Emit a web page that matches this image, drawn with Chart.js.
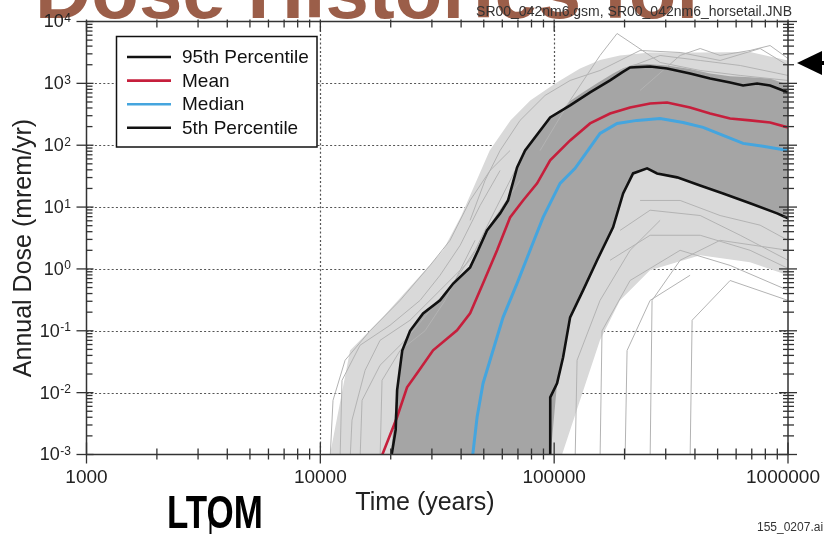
<!DOCTYPE html>
<html><head><meta charset="utf-8">
<script src="https://cdn.jsdelivr.net/npm/chart.js@4.4.1/dist/chart.umd.min.js"></script>
<style>html,body{margin:0;padding:0;background:#fff;overflow:hidden}#wrap{position:relative;width:824px;height:534px}</style>
</head><body><div id="wrap"><canvas id="c" width="824" height="534"></canvas></div>
<script>
// ---- texts ----
const TITLE = 'Dose Histories for';
const SUBTITLE = 'SR00_042nm6.gsm, SR00_042nm6_horsetail.JNB';
const X_TITLE = 'Time (years)';
const Y_TITLE = 'Annual Dose (mrem/yr)';
const LOGO = 'LTOM';
const FILE_ID = '155_0207.ai';
const X_TICK_VALUES = [1000, 10000, 100000, 1000000];
const X_TICK_LABELS = ['1000', '10000', '100000', '1000000'];
const Y_TICK_EXPONENTS = [-3, -2, -1, 0, 1, 2, 3, 4];
const X_GRID = [10000, 100000];
const Y_GRID = [0.01, 0.1, 1, 10, 100, 1000];

// ---- statistics (time in years, dose in mrem/yr) ----
const P95_T = [20000, 21000, 21300, 22400, 24200, 27500, 32500, 37000, 43700, 47300, 51600, 58700, 63500, 69400, 75100, 96100, 117000, 142400, 173400, 195200, 211200, 257200, 304000, 381300, 464500, 565500, 642600, 737700, 838300, 952800, 1000000];
const P95_D = [0.0008, 0.0025, 0.011, 0.048, 0.10, 0.19, 0.31, 0.58, 1.06, 2.0, 4.2, 7.9, 12.8, 43.8, 82, 281, 440, 713, 1114, 1500, 1807, 1875, 1741, 1445, 1200, 1035, 925, 995, 925, 768, 713];
const MEAN_T = [18000, 21280, 23490, 25920, 30350, 38420, 43700, 49660, 57000, 64770, 73600, 84540, 96100, 117000, 142400, 173400, 211200, 257200, 304000, 381300, 464500, 565500, 688400, 838300, 1000000];
const MEAN_D = [0.0008, 0.0040, 0.0122, 0.0206, 0.0484, 0.102, 0.192, 0.585, 2.0, 6.8, 12.8, 24.2, 56.8, 119.6, 225, 326, 408, 473, 491, 408, 326, 271, 252, 233, 194];
const MED_T = [44560, 46810, 49660, 54790, 60450, 69400, 78890, 89660, 106000, 122900, 142400, 157100, 185800, 226300, 283800, 356000, 433500, 527800, 642600, 782500, 1000000];
const MED_D = [0.0008, 0.0040, 0.0142, 0.0484, 0.165, 0.585, 2.0, 6.8, 24.2, 42.2, 92, 155, 225, 252, 271, 233, 194, 144, 107, 96, 82];
const P5_T = [96100, 96200, 102900, 109200, 117000, 132900, 152600, 178600, 197200, 217500, 249700, 275600, 335600, 420700, 527800, 688400, 898300, 1000000];
const P5_D = [0.0008, 0.0084, 0.0142, 0.0373, 0.165, 0.451, 1.38, 4.7, 16.6, 35, 42.2, 35, 30.2, 22.4, 16.6, 11.5, 7.9, 6.6];

// ---- horsetail band (dense core and sparse fringe of the realizations) ----
const CORE_T = [20000, 21300, 22400, 24200, 27500, 32500, 37000, 43700, 47300, 51600, 58700, 63500, 69400, 75100, 96100, 102900, 109200, 117000, 132900, 152600, 178600, 197200, 217500, 249700, 304000, 381300, 464500, 565500, 688400, 838300, 1000000];
const CORE_HI = [0.001, 0.011, 0.048, 0.10, 0.19, 0.31, 0.58, 1.06, 2.0, 4.2, 7.9, 12.8, 43.8, 82, 281, 340, 390, 520, 720, 1000, 1450, 1750, 2000, 2050, 1950, 1700, 1450, 1300, 1250, 1200, 950];
const CORE_LO = [0.0008, 0.0008, 0.0008, 0.0008, 0.0008, 0.0008, 0.0008, 0.0008, 0.0008, 0.0008, 0.0008, 0.0008, 0.0008, 0.0008, 0.0008, 0.0142, 0.0373, 0.165, 0.451, 1.38, 4.7, 16.6, 35, 42.2, 32, 25.5, 19.7, 15.1, 11.5, 8.7, 6.6];
const FRINGE_T = [11000, 13400, 18500, 25000, 33500, 40000, 53000, 65000, 79000, 96000, 106000, 129000, 157000, 191000, 257000, 421000, 688000, 1000000];
const FRINGE_HI = [0.001, 0.048, 0.165, 0.585, 2.0, 7.2, 82, 252, 530, 870, 1114, 1740, 2380, 2824, 3157, 3157, 3200, 2344];
const FRINGE_LO = [0.0008, 0.0008, 0.0008, 0.0008, 0.0008, 0.0008, 0.0008, 0.0008, 0.0008, 0.0008, 0.0008, 0.0075, 0.070, 0.31, 0.95, 1.66, 1.28, 0.79];

// ---- individual outlying realizations ----
const G1_T = [11000, 11330, 12760, 16320, 21930, 29460, 35870, 43700, 53190, 64770];
const G1_D = [0.0008, 0.0075, 0.0334, 0.10, 0.31, 1.14, 2.9, 12.8, 39, 82];
const G2_T = [12140, 12380, 14780, 19870, 26700, 32510, 39600, 48220, 58700];
const G2_D = [0.0008, 0.0158, 0.0583, 0.123, 0.31, 0.79, 2.4, 10.6, 39];
const G3_T = [13400, 13660, 15540, 18000, 24190, 32510, 43700, 53190, 71470];
const G3_D = [0.0008, 0.0036, 0.023, 0.070, 0.148, 0.451, 1.38, 5.1, 27];
const G4_T = [87060, 117000, 157100, 185800, 221800, 283800, 421200, 624700, 1000000];
const G4_D = [82, 530, 2824, 6400, 4090, 2175, 1615, 1343, 1114];
const G5_T = [233000, 345600, 421200, 512400, 688400, 838300, 1000000];
const G5_D = [768, 2824, 3660, 2824, 3400, 4090, 2523];
const G6_T = [157100, 233000, 345600, 512400, 759800, 1000000];
const G6_D = [1615, 3400, 3157, 2344, 3660, 1945];
const G7_T = [191400, 257200, 421200, 624700, 1000000];
const G7_D = [4.2, 8.9, 7.3, 3.5, 1.38];
const G8_T = [157100, 160200, 211200, 345600, 565500, 1000000];
const G8_D = [0.0008, 0.10, 0.65, 2.0, 1.14, 0.451];
const G9_T = [257200, 262200, 345600, 512400, 1000000];
const G9_D = [0.0008, 0.31, 1.38, 2.9, 2.0];
const G10_T = [381300, 389000, 565500, 1000000];
const G10_D = [0.0008, 0.148, 0.65, 0.31];
const G11_T = [122900, 125300, 157100, 211200, 283800];
const G11_D = [0.0008, 0.0334, 0.31, 2.0, 6.1];
const G12_T = [18000, 18360, 21930, 28040, 34150, 39600, 45890];
const G12_D = [0.0008, 0.0158, 0.048, 0.10, 0.31, 0.95, 2.9];
const G13_T = [14780, 15080, 18000, 23030, 29460, 37690, 45890, 55870, 68060];
const G13_D = [0.0008, 0.0075, 0.0277, 0.070, 0.214, 0.65, 2.0, 8.9, 39];
const G14_T = [43700, 50620, 58700, 71470, 91440, 117000, 157100];
const G14_D = [6.1, 27, 82, 252, 638, 1114, 1615];
const G15_T = [191400, 283800, 421200, 624700, 1000000];
const G15_D = [1615, 2824, 2344, 1945, 1343];
const G16_T = [233000, 345600, 512400, 759800, 1000000];
const G16_D = [12.8, 12.8, 7.3, 5.1, 2.9];
const G17_T = [173400, 257200, 421200, 688400, 1000000];
const G17_D = [1.38, 3.5, 3.5, 2.0, 1.02];
const G18_T = [201000, 205000, 257200, 381300];
const G18_D = [0.0008, 0.048, 0.31, 0.79];

const FONT = "'Liberation Sans', Arial, Helvetica, sans-serif";
const xy = (T, D) => T.map((t, i) => ({x: t, y: D[i]}));
const GRAY_LINES = [[G1_T, G1_D], [G2_T, G2_D], [G3_T, G3_D], [G4_T, G4_D], [G5_T, G5_D], [G6_T, G6_D],
  [G7_T, G7_D], [G8_T, G8_D], [G9_T, G9_D], [G10_T, G10_D], [G11_T, G11_D], [G12_T, G12_D],
  [G13_T, G13_D], [G14_T, G14_D], [G15_T, G15_D], [G16_T, G16_D], [G17_T, G17_D], [G18_T, G18_D]];

const base = {pointRadius: 0, pointHoverRadius: 0, tension: 0, clip: 0, fill: false};
const datasets = [
  {...base, label: '95th Percentile', data: xy(P95_T, P95_D), borderColor: '#111111', borderWidth: 2.6, order: 0},
  {...base, label: 'Mean', data: xy(MEAN_T, MEAN_D), borderColor: '#c61f3c', borderWidth: 2.6, order: 1},
  {...base, label: 'Median', data: xy(MED_T, MED_D), borderColor: '#45a5de', borderWidth: 3, order: 2},
  {...base, label: '5th Percentile', data: xy(P5_T, P5_D), borderColor: '#111111', borderWidth: 2.6, order: 3},
];
GRAY_LINES.forEach(([T, D], i) => datasets.push({...base, label: 'r' + i, data: xy(T, D), borderColor: '#b3b3b3', borderWidth: 1, order: 10}));
datasets.push({...base, label: 'coreHi', data: xy(CORE_T, CORE_HI), borderColor: 'transparent', borderWidth: 0.01, backgroundColor: '#a5a5a5', fill: '+1', order: 20});
datasets.push({...base, label: 'coreLo', data: xy(CORE_T, CORE_LO), borderColor: 'transparent', borderWidth: 0.01, order: 21});
datasets.push({...base, label: 'fringeHi', data: xy(FRINGE_T, FRINGE_HI), borderColor: 'transparent', borderWidth: 0.01, backgroundColor: '#d9d9d9', fill: '+1', order: 30});
datasets.push({...base, label: 'fringeLo', data: xy(FRINGE_T, FRINGE_LO), borderColor: 'transparent', borderWidth: 0.01, order: 31});

function seg(ctx, x1, y1, x2, y2) { ctx.beginPath(); ctx.moveTo(x1, y1); ctx.lineTo(x2, y2); ctx.stroke(); }

const deco = {
  id: 'deco',
  beforeDraw(chart) {
    const ctx = chart.ctx;
    ctx.save();
    ctx.fillStyle = '#9b5e49'; ctx.font = `bold 78px ${FONT}`; ctx.textAlign = 'left'; ctx.textBaseline = 'alphabetic';
    ctx.fillText(TITLE, 35, 18);
    ctx.restore();
  },
  beforeDatasetsDraw(chart) {
    const {ctx, chartArea: a, scales: {x, y}} = chart;
    ctx.save();
    ctx.strokeStyle = '#555'; ctx.lineWidth = 1.2; ctx.setLineDash([2, 2.2]);
    Y_GRID.forEach(v => { const p = Math.round(y.getPixelForValue(v)) + 0.5; seg(ctx, a.left, p, a.right, p); });
    X_GRID.forEach(v => { const p = Math.round(x.getPixelForValue(v)) + 0.5; seg(ctx, p, a.top, p, a.bottom); });
    ctx.restore();
  },
  afterDatasetsDraw(chart) {
    const {ctx, chartArea: a, scales: {x, y}} = chart;
    ctx.save();
    ctx.setLineDash([]);
    ctx.strokeStyle = '#333'; ctx.lineWidth = 1.5;
    ctx.strokeRect(a.left, a.top, a.right - a.left, a.bottom - a.top);
    ctx.lineWidth = 1.3;
    for (let e = 3; e <= 6; e++) for (let k = 1; k <= 9; k++) {
      const v = k * Math.pow(10, e); if (v > 1e6 * 1.0001) break;
      const p = x.getPixelForValue(v); const major = k === 1;
      seg(ctx, p, a.bottom + (major ? 9 : 5), p, a.bottom - (major ? 12 : 6));
      seg(ctx, p, a.top - 2, p, a.top + (major ? 10 : 6));
    }
    for (let e = -3; e <= 4; e++) for (let k = 1; k <= 9; k++) {
      const v = k * Math.pow(10, e); if (v > 1e4 * 1.0001) break;
      const p = y.getPixelForValue(v); const major = k === 1;
      if (major) { seg(ctx, a.left - 10, p, a.left + 7, p); seg(ctx, a.right - 9, p, a.right + 9, p); }
      else { seg(ctx, a.left, p, a.left + 6, p); seg(ctx, a.right - 5, p, a.right + 6, p); }
    }
    ctx.fillStyle = '#222';
    ctx.font = `19px ${FONT}`; ctx.textAlign = 'center'; ctx.textBaseline = 'middle';
    X_TICK_VALUES.forEach((v, i) => {
      let px = x.getPixelForValue(v);
      const w = ctx.measureText(X_TICK_LABELS[i]).width;
      if (px + w / 2 > 820) px = 820 - w / 2;
      ctx.fillText(X_TICK_LABELS[i], px, a.bottom + 23);
    });
    Y_TICK_EXPONENTS.forEach(e => {
      const p = y.getPixelForValue(Math.pow(10, e));
      ctx.font = `12px ${FONT}`; const ex = String(e); const ew = ctx.measureText(ex).width;
      ctx.textAlign = 'left'; ctx.textBaseline = 'alphabetic';
      ctx.fillText(ex, 71 - ew, p + 0.5);
      ctx.font = `18px ${FONT}`; ctx.textAlign = 'right'; ctx.textBaseline = 'middle';
      ctx.fillText('10', 71 - ew - 0.5, p + 1);
    });
    ctx.font = `25px ${FONT}`; ctx.textAlign = 'center'; ctx.textBaseline = 'middle';
    ctx.fillText(X_TITLE, 425, 503);
    ctx.save(); ctx.translate(24, 248); ctx.rotate(-Math.PI / 2); ctx.fillText(Y_TITLE, 0, 0); ctx.restore();
    ctx.fillStyle = '#fff'; ctx.fillRect(116.5, 36.5, 200.5, 110.5);
    ctx.strokeStyle = '#111'; ctx.lineWidth = 1.5; ctx.strokeRect(116.5, 36.5, 200.5, 110.5);
    chart.data.datasets.slice(0, 4).forEach((ds, i) => {
      const yy = 57 + i * 23.6;
      ctx.strokeStyle = ds.borderColor; ctx.lineWidth = 2.6; seg(ctx, 127, yy, 171, yy);
      ctx.fillStyle = '#111'; ctx.font = `19px ${FONT}`; ctx.textAlign = 'left'; ctx.textBaseline = 'middle';
      ctx.fillText(ds.label, 182, yy + 1);
    });
    ctx.restore();
  },
  afterDraw(chart) {
    const ctx = chart.ctx;
    ctx.save();
    ctx.fillStyle = '#333'; ctx.font = `14px ${FONT}`; ctx.textAlign = 'right'; ctx.textBaseline = 'alphabetic';
    ctx.fillText(SUBTITLE, 792, 16);
    ctx.fillStyle = '#000'; ctx.beginPath(); ctx.moveTo(797, 63); ctx.lineTo(822, 51); ctx.lineTo(822, 75); ctx.closePath(); ctx.fill();
    ctx.fillRect(820, 61, 4, 4);
    ctx.save(); ctx.translate(167, 528); ctx.scale(0.76, 1); ctx.font = `bold 46px ${FONT}`; ctx.textAlign = 'left';
    ctx.fillText(LOGO, 0, 0); ctx.restore();
    ctx.fillRect(209.5, 520, 2, 14);
    ctx.fillStyle = '#333'; ctx.font = `12px ${FONT}`; ctx.textAlign = 'left';
    ctx.fillText(FILE_ID, 757, 531);
    ctx.restore();
  }
};

new Chart(document.getElementById('c'), {
  type: 'line',
  data: {datasets},
  options: {
    responsive: false, animation: false, devicePixelRatio: 1, events: [],
    layout: {padding: {left: 86.5, right: 36, top: 21.5, bottom: 79.5}},
    plugins: {legend: {display: false}, tooltip: {enabled: false}, title: {display: false}},
    scales: {
      x: {type: 'logarithmic', min: 1000, max: 1000000, display: false},
      y: {type: 'logarithmic', min: 0.001, max: 10000, display: false}
    }
  },
  plugins: [deco]
});
</script></body></html>
